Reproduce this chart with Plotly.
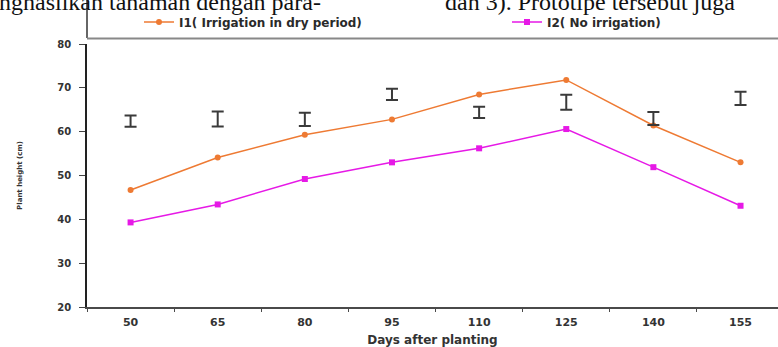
import plotly.graph_objects as go

days = ["50", "65", "80", "95", "110", "125", "140", "155"]
i1_dry_irrigation = [46.7, 54.1, 59.3, 62.8, 68.5, 71.8, 61.4, 53.0]
i2_no_irrigation = [39.3, 43.4, 49.2, 53.0, 56.2, 60.6, 51.9, 43.1]
bar_center = [62.4, 62.9, 62.8, 68.5, 64.4, 66.7, 63.0, 67.6]
bar_half = [1.3, 1.7, 1.5, 1.3, 1.3, 1.7, 1.5, 1.5]

W, H = 778, 347
L, R, T, B = 87, 0, 44, 40
plot_h = H - T - B
plot_w = W - L - R

def py(pix):
    return 1 - (pix - T) / plot_h

def px(pix):
    return (pix - L) / plot_w

font_b = "DejaVu Sans"
leg_font = dict(family=font_b, size=12, color="#2a2a2a", weight="bold")

fig = go.Figure()
fig.add_trace(go.Scatter(
    x=days, y=i1_dry_irrigation, mode="lines+markers",
    name="I1( Irrigation in dry period)", legend="legend",
    line=dict(color="#EE7A33", width=1.5),
    marker=dict(symbol="circle", size=6, color="#EE7A33"),
))
fig.add_trace(go.Scatter(
    x=days, y=i2_no_irrigation, mode="lines+markers",
    name="I2( No irrigation)", legend="legend2",
    line=dict(color="#E619E6", width=1.5),
    marker=dict(symbol="square", size=6, color="#E619E6"),
))
fig.add_trace(go.Scatter(
    x=days, y=bar_center, mode="markers", showlegend=False,
    marker=dict(size=1, color="rgba(0,0,0,0)"),
    error_y=dict(type="data", array=bar_half, visible=True,
                 color="#3a3a3a", thickness=2, width=6),
))

fig.update_layout(
    width=W, height=H,
    margin=dict(l=L, r=R, t=T, b=B, autoexpand=False),
    paper_bgcolor="white", plot_bgcolor="white",
    showlegend=True,
    legend=dict(orientation="h", x=px(139), y=py(22), xanchor="left", yanchor="middle",
                font=leg_font, bgcolor="rgba(0,0,0,0)", borderwidth=0, itemwidth=30),
    legend2=dict(orientation="h", x=px(507), y=py(22), xanchor="left", yanchor="middle",
                 font=leg_font, bgcolor="rgba(0,0,0,0)", borderwidth=0, itemwidth=30),
    xaxis=dict(type="category", range=[-0.5, 7.43], showgrid=False, zeroline=False,
               showline=True, linecolor="#4a4a4a", linewidth=1.5,
               ticks="outside", tickson="boundaries", ticklen=3, tickcolor="#4a4a4a",
               ticklabelstandoff=4,
               tickfont=dict(family=font_b, size=11, color="#333", weight="bold"),
               title=dict(text="Days after planting", standoff=14,
                          font=dict(family=font_b, size=12, color="#333", weight="bold"))),
    yaxis=dict(range=[20, 80], dtick=10, showgrid=False, zeroline=False,
               showline=True, linecolor="#222", linewidth=1.5,
               ticks="outside", ticklen=6, tickcolor="#444",
               ticklabelstandoff=6,
               tickfont=dict(family=font_b, size=10, color="#333", weight="bold"),
               title=dict(text="Plant height (cm)", standoff=34,
                          font=dict(family=font_b, size=7, color="#333", weight="bold"))),
    shapes=[
        dict(type="line", xref="paper", yref="paper", x0=px(87), x1=px(87),
             y0=py(-5), y1=py(38), line=dict(color="#333", width=1.5)),
        dict(type="line", xref="paper", yref="paper", x0=px(87), x1=px(790),
             y0=py(38.5), y1=py(38.5), line=dict(color="#888", width=2)),
    ],
    annotations=[
        dict(text="nghasilkan tanaman dengan para-", xref="paper", yref="paper",
             x=px(-3), y=py(2), xanchor="left", yanchor="middle", showarrow=False,
             font=dict(family="Liberation Serif", size=24, color="#111")),
        dict(text="dan 3). Prototipe tersebut juga", xref="paper", yref="paper",
             x=px(443), y=py(2), xanchor="left", yanchor="middle", showarrow=False,
             font=dict(family="Liberation Serif", size=24, color="#111")),
    ],
)

fig.write_html("out.html", config={"displayModeBar": False},
               post_script="document.body.style.margin='0';document.body.style.overflow='hidden';")
